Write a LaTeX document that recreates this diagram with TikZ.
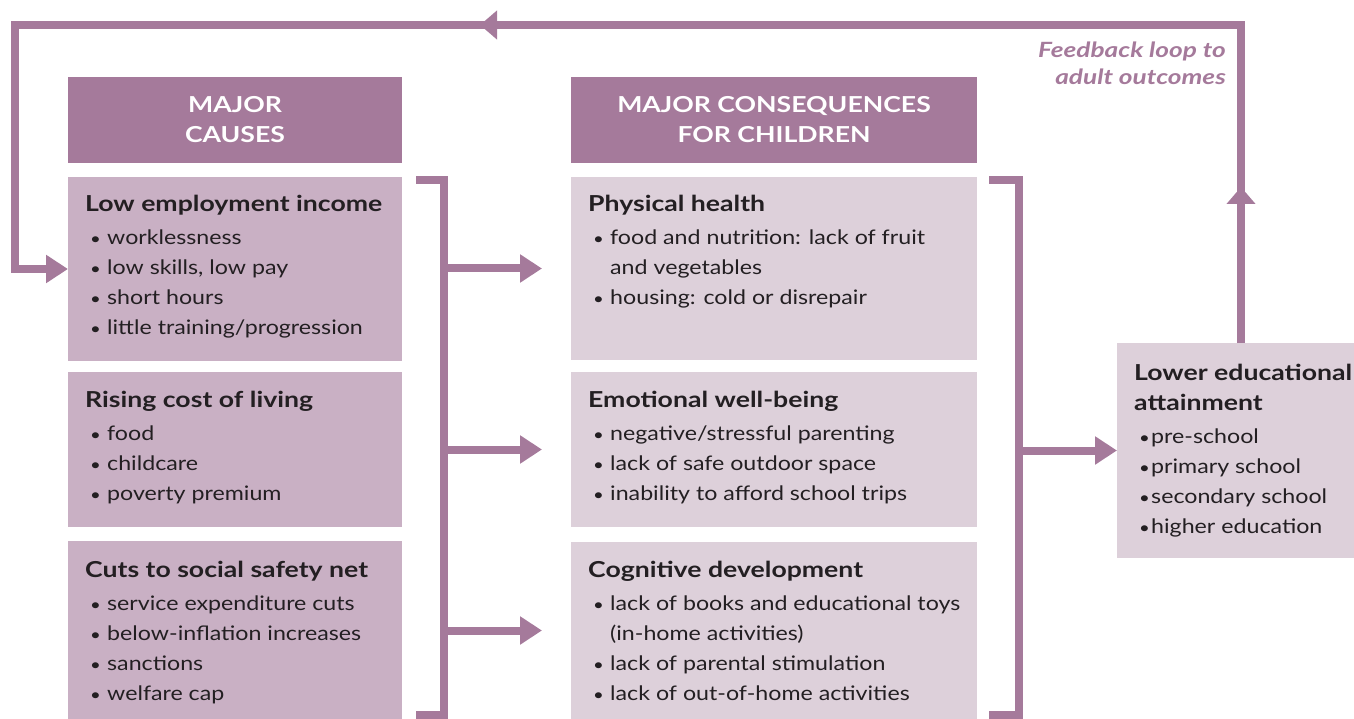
\documentclass[tikz,border=0pt]{standalone}
\usepackage{fontspec}
\setmainfont{Lato}[
  UprightFeatures={FakeStretch=1.16},
  BoldFeatures={FakeStretch=1.21},
  BoldItalicFeatures={FakeStretch=1.25}]
\usetikzlibrary{arrows.meta,calc}

\definecolor{mauve}{HTML}{A57A9B}
\definecolor{causefill}{HTML}{C9B0C4}
\definecolor{consfill}{HTML}{DDD0DA}
\definecolor{ink}{HTML}{231F22}

% bullet lines: wide indent in the main panels, tight in the outcome panel
\newcommand{\listdot}{{\fontsize{16}{30}\selectfont\textbullet}}
\newcommand{\bul}[1]{\hspace*{5pt}\makebox[17pt][l]{\listdot}#1}
\newcommand{\cnt}[1]{\hspace*{22pt}#1}
\newcommand{\sbul}[1]{\hspace*{5pt}\makebox[12pt][l]{\listdot}#1}
% panel text: bold title, then the list
\newcommand{\paneltext}[2]{\parbox[t]{400pt}{\raggedright\fontsize{20}{30}\selectfont
  {\bfseries\fontsize{22}{30}\selectfont #1}\\[3pt]#2}}

\begin{document}
\begin{tikzpicture}[x=1pt,y=-1pt,
  panel/.style={anchor=north west, inner sep=0pt, outer sep=0pt, draw=none},
  head/.style={panel, fill=mauve, minimum height=86pt},
  cause/.style={panel, fill=causefill, minimum width=334pt},
  cons/.style={panel, fill=consfill, minimum width=406pt},
  headtext/.style={anchor=base, inner sep=0pt, text=white},
  body/.style={anchor=base west, inner sep=0pt, text=ink},
  wire/.style={draw=mauve, line width=8pt, line join=miter},
  feed/.style={wire, -{Triangle[length=22pt,width=27pt]}},
  midtip/.style={draw=mauve, line width=8pt, -{Triangle[length=17pt,width=28pt]}}
]
\useasboundingbox (0,0) rectangle (1354,719);

% column headers
\node[head, minimum width=334pt] (hd1) at (68,77) {};
\node[head, minimum width=406pt] (hd2) at (571,77) {};
\node[headtext] (hd1t) at ($(hd1.north)+(0,36)$)
  {\parbox[t]{330pt}{\centering\fontsize{22}{30}\selectfont\bfseries MAJOR\\CAUSES}};
\node[headtext] (hd2t) at ($(hd2.north)+(0,36)$)
  {\parbox[t]{400pt}{\centering\fontsize{22}{30}\selectfont\bfseries MAJOR CONSEQUENCES\\FOR CHILDREN}};

% causes
\node[cause, minimum height=184pt] (b1) at (68,177) {};
\node[cause, minimum height=155pt] (b2) at (68,372) {};
\node[cause, minimum height=178pt] (b3) at (68,541) {};
% consequences
\node[cons, minimum height=183pt] (m1) at (571,177) {};
\node[cons, minimum height=155pt] (m2) at (571,372) {};
\node[cons, minimum height=177pt] (m3) at (571,542) {};
% outcome
\node[cons, minimum width=237pt, minimum height=215pt] (rb) at (1117,343) {};

\node[body] (b1t) at ($(b1.north west)+(17,35)$) {\paneltext{Low employment income}{%
  \bul{worklessness}\\\bul{low skills, low pay}\\\bul{short hours}\\\bul{little training/progression}}};
\node[body] (b2t) at ($(b2.north west)+(17,35)$) {\paneltext{Rising cost of living}{%
  \bul{food}\\\bul{childcare}\\\bul{poverty premium}}};
\node[body] (b3t) at ($(b3.north west)+(17,36)$) {\paneltext{Cuts to social safety net}{%
  \bul{service expenditure cuts}\\\bul{below-inflation increases}\\\bul{sanctions}\\\bul{welfare cap}}};

\node[body] (m1t) at ($(m1.north west)+(17,35)$) {\paneltext{Physical health}{%
  \bul{food and nutrition: lack of fruit}\\\cnt{and vegetables}\\\bul{housing: cold or disrepair}}};
\node[body] (m2t) at ($(m2.north west)+(17,35)$) {\paneltext{Emotional well-being}{%
  \bul{negative/stressful parenting}\\\bul{lack of safe outdoor space}\\\bul{inability to afford school trips}}};
\node[body] (m3t) at ($(m3.north west)+(17,35)$) {\paneltext{Cognitive development}{%
  \bul{lack of books and educational toys}\\\cnt{(in-home activities)}\\\bul{lack of parental stimulation}\\\bul{lack of out-of-home activities}}};

\node[body] (rbt) at ($(rb.north west)+(17,37)$) {\paneltext{Lower educational\\attainment}{%
  \sbul{pre-school}\\\sbul{primary school}\\\sbul{secondary school}\\\sbul{higher education}}};

% feedback label
\node[anchor=base east, inner sep=0pt, text=mauve] (fbl) at (1226,58)
  {\parbox[t]{240pt}{\raggedleft\fontsize{21}{27}\selectfont\bfseries\itshape Feedback loop to\\adult outcomes}};

% brackets gathering each column
\coordinate (s1) at (444,0);
\coordinate (s2) at (1019,0);
\draw[wire] (416,180) -| (s1 |- 0,715) -- (416,715);
\draw[wire] (989,180) -| (s2 |- 0,715) -- (989,715);

% causes -> consequences
\draw[feed] (s1 |- m1.west) -- ([xshift=-29pt]m1.west);
\draw[feed] (s1 |- m2.west) -- ([xshift=-29pt]m2.west);
\draw[feed] (s1 |- m3.west) -- ([xshift=-29pt]m3.west);
% consequences -> outcome
\draw[feed] (s2 |- rb.west) -- (rb.west);

% feedback loop back to the causes
\coordinate (fx) at (1241,0);
\coordinate (corner) at (15,25);
\draw[feed] (fx |- rb.north) |- (corner) |- (b1.west);
\draw[midtip] (1241,207) -- (1241,187);
\draw[midtip] (500,25) -- (480,25);
\end{tikzpicture}
\end{document}
